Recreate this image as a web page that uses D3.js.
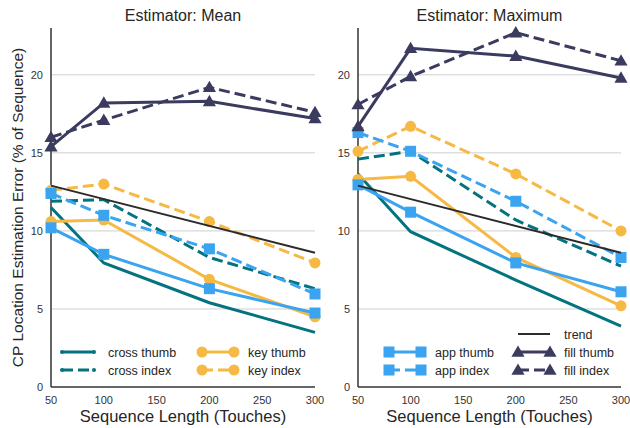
<!DOCTYPE html>
<html>
<head>
<meta charset="utf-8">
<script src="https://cdn.jsdelivr.net/npm/d3@7"></script>
<style>
  body { margin: 0; background: #fff; }
  svg { font-family: Arial, "Liberation Sans", sans-serif; }
</style>
</head>
<body>
<script>
// sequence lengths (touches)
const lengths = [50, 100, 200, 300];
const yTicks = [0, 5, 10, 15, 20];
const xTicks = [50, 100, 150, 200, 250, 300];

// estimation error, Mean estimator
const meanCrossThumb = [11.5, 7.95, 5.4, 3.5];
const meanCrossIndex = [11.9, 12.0, 8.3, 6.3];
const meanKeyThumb = [10.6, 10.7, 6.9, 4.5];
const meanKeyIndex = [12.6, 13.0, 10.6, 7.95];
const meanAppThumb = [10.2, 8.5, 6.3, 4.74];
const meanAppIndex = [12.4, 11.0, 8.85, 5.96];
const meanFillThumb = [15.4, 18.2, 18.3, 17.2];
const meanFillIndex = [16.0, 17.1, 19.2, 17.6];

// estimation error, Maximum estimator
const maxCrossThumb = [13.65, 9.95, 6.85, 3.9];
const maxCrossIndex = [14.6, 15.1, 10.7, 7.75];
const maxKeyThumb = [13.3, 13.5, 8.3, 5.2];
const maxKeyIndex = [15.1, 16.7, 13.65, 10.0];
const maxAppThumb = [12.95, 11.2, 7.95, 6.1];
const maxAppIndex = [16.3, 15.1, 11.9, 8.3];
const maxFillThumb = [16.7, 21.7, 21.2, 19.8];
const maxFillIndex = [18.1, 19.9, 22.7, 20.9];

// trend line end points (same in both panels)
const trendX = [50, 300];
const trendY = [12.9, 8.6];

const colors = { cross: "#02737f", key: "#f6b944", app: "#3aa4f0", fill: "#3b3b5f", trend: "#2b2b2b" };

const seriesDefs = [
  { name: "cross thumb", kind: "cross", dashed: false, marker: "dot" },
  { name: "cross index", kind: "cross", dashed: true, marker: "dot" },
  { name: "key thumb", kind: "key", dashed: false, marker: "circle" },
  { name: "key index", kind: "key", dashed: true, marker: "circle" },
  { name: "app thumb", kind: "app", dashed: false, marker: "square" },
  { name: "app index", kind: "app", dashed: true, marker: "square" },
  { name: "fill thumb", kind: "fill", dashed: false, marker: "triangle" },
  { name: "fill index", kind: "fill", dashed: true, marker: "triangle" },
];

const panels = [
  { title: "Estimator: Mean", left: 51, right: 315,
    values: [meanCrossThumb, meanCrossIndex, meanKeyThumb, meanKeyIndex, meanAppThumb, meanAppIndex, meanFillThumb, meanFillIndex],
    legend: [["cross thumb", "cross index"], ["key thumb", "key index"]],
    legendX: [62, 202] },
  { title: "Estimator: Maximum", left: 358, right: 621,
    values: [maxCrossThumb, maxCrossIndex, maxKeyThumb, maxKeyIndex, maxAppThumb, maxAppIndex, maxFillThumb, maxFillIndex],
    legend: [["app thumb", "app index"], ["trend", "fill thumb", "fill index"]],
    legendX: [389, 518] },
];

const width = 630, height = 428;
const plotTop = 28, plotBottom = 387;

const svg = d3.select("body").append("svg")
  .attr("width", width)
  .attr("height", height);

const y = d3.scaleLinear().domain([0, 23]).range([plotBottom, plotTop]);

function drawMarker(g, type, cx, cy, color) {
  if (type === "dot") {
    g.append("circle").attr("cx", cx).attr("cy", cy).attr("r", 2).attr("fill", color);
  } else if (type === "circle") {
    g.append("circle").attr("cx", cx).attr("cy", cy).attr("r", 5.5).attr("fill", color);
  } else if (type === "square") {
    g.append("rect").attr("x", cx - 5.5).attr("y", cy - 5.5)
      .attr("width", 11).attr("height", 11).attr("fill", color);
  } else if (type === "triangle") {
    g.append("path")
      .attr("d", d3.symbol().type(d3.symbolTriangle).size(75)())
      .attr("transform", `translate(${cx},${cy + 1})`)
      .attr("fill", color);
  }
}

const defByName = Object.fromEntries(seriesDefs.map(d => [d.name, d]));

panels.forEach(p => {
  const x = d3.scaleLinear().domain([50, 300]).range([p.left, p.right]);
  const g = svg.append("g");

  // grid
  g.selectAll("line.grid")
    .data(yTicks.filter(t => t > 0))
    .join("line")
    .attr("x1", p.left).attr("x2", p.right)
    .attr("y1", d => y(d)).attr("y2", d => y(d))
    .attr("stroke", "#cfcfcf").attr("stroke-width", 1);

  // tick labels
  g.selectAll("text.yt")
    .data(yTicks)
    .join("text")
    .attr("x", p.left - 8).attr("y", d => y(d) + 4)
    .attr("text-anchor", "end")
    .attr("font-size", 11).attr("fill", "#333")
    .text(d => d);

  g.selectAll("text.xt")
    .data(xTicks)
    .join("text")
    .attr("x", d => x(d)).attr("y", plotBottom + 17)
    .attr("text-anchor", "middle")
    .attr("font-size", 11).attr("fill", "#333")
    .text(d => d);

  // spines
  g.append("line").attr("x1", p.left).attr("x2", p.left).attr("y1", plotTop).attr("y2", plotBottom)
    .attr("stroke", "#333").attr("stroke-width", 1.5);
  g.append("line").attr("x1", p.left).attr("x2", p.right).attr("y1", plotBottom).attr("y2", plotBottom)
    .attr("stroke", "#333").attr("stroke-width", 1.5);

  const line = d3.line().x((d, i) => x(lengths[i])).y(d => y(d));

  seriesDefs.forEach((s, k) => {
    const vals = p.values[k];
    const color = colors[s.kind];
    g.append("path")
      .attr("d", line(vals))
      .attr("fill", "none")
      .attr("stroke", color)
      .attr("stroke-width", 3)
      .attr("stroke-dasharray", s.dashed ? "11,5" : null);
    const mg = g.append("g");
    if (s.marker !== "dot") vals.forEach((v, i) => drawMarker(mg, s.marker, x(lengths[i]), y(v), color));
  });

  // trend
  g.append("path")
    .attr("d", d3.line().x(d => x(d[0])).y(d => y(d[1]))(trendX.map((t, i) => [t, trendY[i]])))
    .attr("fill", "none")
    .attr("stroke", colors.trend)
    .attr("stroke-width", 2);

  // title and x label
  g.append("text")
    .attr("x", (p.left + p.right) / 2).attr("y", 21)
    .attr("text-anchor", "middle")
    .attr("font-size", 16).attr("fill", "#262626")
    .text(p.title);
  g.append("text")
    .attr("x", (p.left + p.right) / 2).attr("y", 422)
    .attr("text-anchor", "middle")
    .attr("font-size", 16.5).attr("fill", "#262626")
    .text("Sequence Length (Touches)");

  // legend, columns filled from the bottom row up
  p.legend.forEach((col, c) => {
    const x0 = p.legendX[c];
    col.forEach((name, r) => {
      const yy = 370 - (col.length - 1 - r) * 18;
      const lg = g.append("g");
      if (name === "trend") {
        lg.append("line").attr("x1", x0).attr("x2", x0 + 32).attr("y1", yy).attr("y2", yy)
          .attr("stroke", colors.trend).attr("stroke-width", 2);
      } else {
        const s = defByName[name];
        const color = colors[s.kind];
        lg.append("line").attr("x1", x0).attr("x2", x0 + 32).attr("y1", yy).attr("y2", yy)
          .attr("stroke", color).attr("stroke-width", 3)
          .attr("stroke-dasharray", s.dashed ? "11,5" : null);
        drawMarker(lg, s.marker, x0, yy, color);
        drawMarker(lg, s.marker, x0 + 32, yy, color);
      }
      lg.append("text").attr("x", x0 + 46).attr("y", yy + 4.5)
        .attr("font-size", 12.5).attr("fill", "#262626")
        .text(name);
    });
  });
});

// y axis label
svg.append("text")
  .attr("transform", `translate(23,${(plotTop + plotBottom) / 2}) rotate(-90)`)
  .attr("text-anchor", "middle")
  .attr("font-size", 15.5).attr("fill", "#262626")
  .text("CP Location Estimation Error (% of Sequence)");
</script>
</body>
</html>
